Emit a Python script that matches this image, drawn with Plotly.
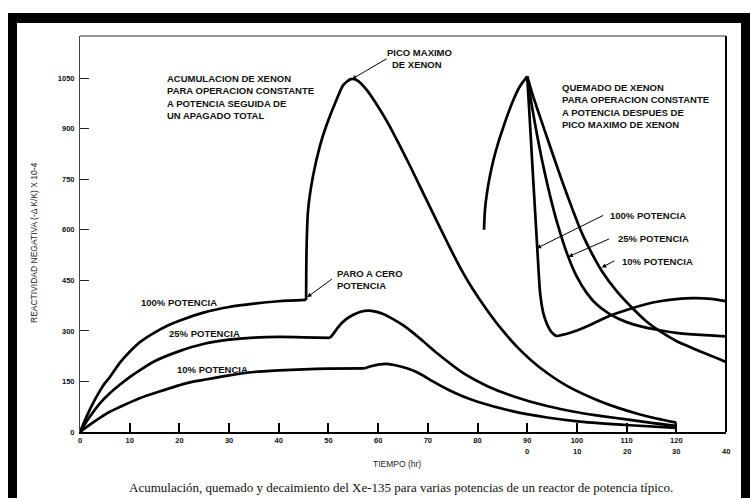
import plotly.graph_objects as go

# ---------------- data ----------------
# build-up curves at constant power (time in hr, reactivity in units of 1e-4)
x_build_100 = [0, 1, 2, 3, 4, 5, 6, 8, 10, 12, 15, 18, 20, 25, 30, 35, 40, 45.5]
y_build_100 = [0, 35, 67, 96, 122, 145, 163, 205, 238, 266, 295, 318, 330, 355, 371, 381, 388, 392]

x_build_25 = [0, 1, 2, 4, 6, 8, 10, 12, 15, 20, 25, 30, 35, 40, 45, 50.3]
y_build_25 = [0, 24, 46, 85, 115, 140, 163, 183, 210, 240, 262, 274, 280, 282, 281, 279]

x_build_10 = [0, 2, 4, 6, 8, 12, 16, 21.5, 25, 30, 35, 40, 45, 50, 57.3]
y_build_10 = [0, 22, 42, 60, 74, 100, 120, 145, 155, 168, 178, 183, 186, 188, 189]

# after shutdown: peak and decay
x_shut_100 = [45.5, 45.6, 45.9, 46.9, 48.3, 49.6, 51.6, 53, 54.5, 55.8, 57.7, 60, 62, 64,
              66.4, 71, 74, 76.5, 79, 82, 85, 88, 91, 94, 98, 104, 108, 112.7, 116, 120]
y_shut_100 = [392, 549, 659, 760, 850, 910, 985, 1030, 1047, 1043, 1015, 965, 916, 860,
              790, 650, 560, 488, 425, 360, 302, 252, 210, 175, 137, 95, 73, 52, 40, 28]

x_shut_25 = [50.3, 51, 52, 53.5, 55, 56.5, 58, 59.5, 61, 63, 65, 67, 69, 72, 77, 82, 87,
             94, 100.6, 105, 110.7, 115, 120]
y_shut_25 = [279, 292, 312, 334, 348, 357, 360, 357, 350, 335, 317, 295, 270, 232, 176, 136,
             107, 77, 57, 47, 36, 27, 18]

x_shut_10 = [57.3, 58.5, 60, 61.7, 63.5, 65.8, 68.4, 71, 74, 77, 80, 87, 94, 100.6, 110.7, 120]
y_shut_10 = [189, 195, 200, 202, 198, 189, 173, 150, 126, 106, 90, 62, 43, 31, 20, 12]

# approach to the xenon peak (right-hand family)
x_rise = [81.3, 81.5, 81.9, 82.5, 83.2, 84.2, 85.2, 86.2, 87.2, 88.5, 90]
y_rise = [600, 660, 709, 760, 807, 860, 905, 947, 985, 1025, 1055]

# burnout after the peak at constant power
x_burn_100 = [90, 90.5, 91, 91.5, 92, 92.3, 92.6, 93.2, 93.9, 94.8, 95.9, 97, 98.5, 100, 103.3,
              106.6, 110, 113.3, 116.7, 120, 123.4, 127, 130]
y_burn_100 = [1055, 930, 800, 675, 550, 475, 412, 355, 323, 298, 285, 288, 294, 301, 322,
              345, 362, 377, 388, 394, 397, 395, 388]

x_burn_25 = [90, 91, 92, 93, 94, 95, 96, 98, 100, 102, 104, 106.6, 110, 113.3, 116.7, 120, 125, 130]
y_burn_25 = [1055, 962, 880, 805, 738, 677, 622, 530, 460, 412, 378, 350, 326, 312, 302, 294, 288, 284]

x_burn_10 = [90, 91, 92, 93.5, 95, 97, 99, 101, 103, 105, 108, 111, 114, 117, 120, 125, 130]
y_burn_10 = [1055, 1005, 960, 895, 830, 745, 665, 590, 530, 478, 418, 370, 328, 296, 270, 238, 208]

# axis ticks
x_ticks = [0, 10, 20, 30, 40, 50, 60, 70, 80, 90, 100, 110, 120]
x_ticks_2 = [90, 100, 110, 120, 130]
x_ticks_2_text = ["0", "10", "20", "30", "40"]
y_ticks = [0, 150, 300, 450, 600, 750, 900, 1050]

# ---------------- figure ----------------
W, H = 750, 498
L, R, T, B = 80, 24, 36, 66
PW, PH = W - L - R, H - T - B
SANS = "Liberation Sans, Arial, sans-serif"


def px(xp):
    return (xp - L) / PW


def py(yp):
    return (H - B - yp) / PH


fig = go.Figure()
curves = [
    (x_build_100, y_build_100), (x_build_25, y_build_25), (x_build_10, y_build_10),
    (x_shut_100, y_shut_100), (x_shut_25, y_shut_25), (x_shut_10, y_shut_10),
    (x_rise, y_rise), (x_burn_100, y_burn_100), (x_burn_25, y_burn_25), (x_burn_10, y_burn_10),
]
for xs, ys in curves:
    fig.add_trace(go.Scatter(x=xs, y=ys, mode="lines",
                             line=dict(color="black", width=2.7, shape="spline", smoothing=0.7),
                             hoverinfo="skip", showlegend=False))

ann = []


def text(xp, yp, s, size=9.5, anchor="left"):
    ann.append(dict(x=px(xp), y=py(yp), xref="paper", yref="paper", text=s, showarrow=False,
                    xanchor=anchor, yanchor="middle", align="left",
                    font=dict(family=SANS, size=size, color="#111")))


def arrow(x_head, y_head, x_tail, y_tail):
    ann.append(dict(x=x_head, y=y_head, ax=x_tail, ay=y_tail, xref="x", yref="y",
                    axref="x", ayref="y", text="", showarrow=True, arrowhead=2,
                    arrowsize=0.9, arrowwidth=1, arrowcolor="black"))


text(385, 52, "<b>PICO MAXIMO</b>")
text(390, 64, "<b>DE XENON</b>")
text(165, 97, "<b>ACUMULACION DE XENON<br>PARA OPERACION CONSTANTE<br>A POTENCIA SEGUIDA DE<br>UN APAGADO TOTAL</b>")
text(560, 106, "<b>QUEMADO DE XENON<br>PARA OPERACION CONSTANTE<br>A POTENCIA DESPUES DE<br>PICO MAXIMO DE XENON</b>")
text(608, 215, "<b>100% POTENCIA</b>")
text(616, 238, "<b>25% POTENCIA</b>")
text(620, 261, "<b>10% POTENCIA</b>")
text(139, 302, "<b>100% POTENCIA</b>")
text(167, 333, "<b>25% POTENCIA</b>")
text(175, 369, "<b>10% POTENCIA</b>")
text(335, 279, "<b>PARO A CERO<br>POTENCIA</b>")

arrow(54.7, 1047, 62.0, 1110)
arrow(45.7, 400, 51.0, 457)
arrow(91.9, 545, 105.6, 645)
arrow(98.3, 520, 106.8, 575)
arrow(105.0, 488, 107.8, 510)

for xv, tx in zip(x_ticks_2, x_ticks_2_text):
    ann.append(dict(x=xv, y=py(451), xref="x", yref="paper", text="<b>" + tx + "</b>",
                    showarrow=False, xanchor="center", yanchor="middle",
                    font=dict(family=SANS, size=7.5, color="#111")))

ann.append(dict(x=px(34), y=py(243), xref="paper", yref="paper", textangle=-90,
                text="REACTIVIDAD NEGATIVA (-Δ K/K) X 10-4", showarrow=False,
                xanchor="center", yanchor="middle",
                font=dict(family=SANS, size=8.5, color="#222")))
ann.append(dict(x=px(397), y=py(464), xref="paper", yref="paper", text="TIEMPO (hr)",
                showarrow=False, xanchor="center", yanchor="middle",
                font=dict(family=SANS, size=8.5, color="#222")))
ann.append(dict(x=px(401), y=py(487), xref="paper", yref="paper",
                text="Acumulación, quemado y decaimiento del Xe-135 para varias potencias de un reactor de potencia típico.",
                showarrow=False, xanchor="center", yanchor="middle",
                font=dict(family="Liberation Serif, Times New Roman, serif", size=13, color="#111")))

shapes = [
    # thick black frame of the scanned page
    dict(type="rect", xref="paper", yref="paper", x0=px(8), x1=px(750), y0=py(23), y1=py(13),
         fillcolor="black", line=dict(width=0)),
    dict(type="rect", xref="paper", yref="paper", x0=px(8), x1=px(17), y0=py(498), y1=py(13),
         fillcolor="black", line=dict(width=0)),
    dict(type="rect", xref="paper", yref="paper", x0=px(741), x1=px(750), y0=py(498), y1=py(13),
         fillcolor="black", line=dict(width=0)),
    # plot box top and right
    dict(type="line", xref="paper", yref="paper", x0=0, x1=1, y0=1, y1=1,
         line=dict(color="#333", width=1)),
    dict(type="line", xref="paper", yref="paper", x0=1, x1=1, y0=0, y1=1,
         line=dict(color="black", width=2)),
]

fig.update_layout(
    width=W, height=H, margin=dict(l=L, r=R, t=T, b=B),
    paper_bgcolor="white", plot_bgcolor="white",
    annotations=ann, shapes=shapes, showlegend=False,
    xaxis=dict(range=[0, 130], tickvals=x_ticks, ticktext=["<b>%d</b>" % v for v in x_ticks],
               ticks="inside", ticklen=9, tickwidth=1.5, tickcolor="black",
               showline=True, linecolor="black", linewidth=2, showgrid=False, zeroline=False,
               tickfont=dict(family=SANS, size=7.5, color="#111"),
               fixedrange=True),
    yaxis=dict(range=[0, 1175], tickvals=y_ticks, ticktext=["<b>%d</b>" % v for v in y_ticks],
               ticks="inside", ticklen=9, tickwidth=1, tickcolor="#222",
               showline=True, linecolor="#444", linewidth=1, showgrid=False, zeroline=False,
               tickfont=dict(family=SANS, size=7.5, color="#111"), ticklabelstandoff=3,
               fixedrange=True),
)

fig.write_html("out.html")
